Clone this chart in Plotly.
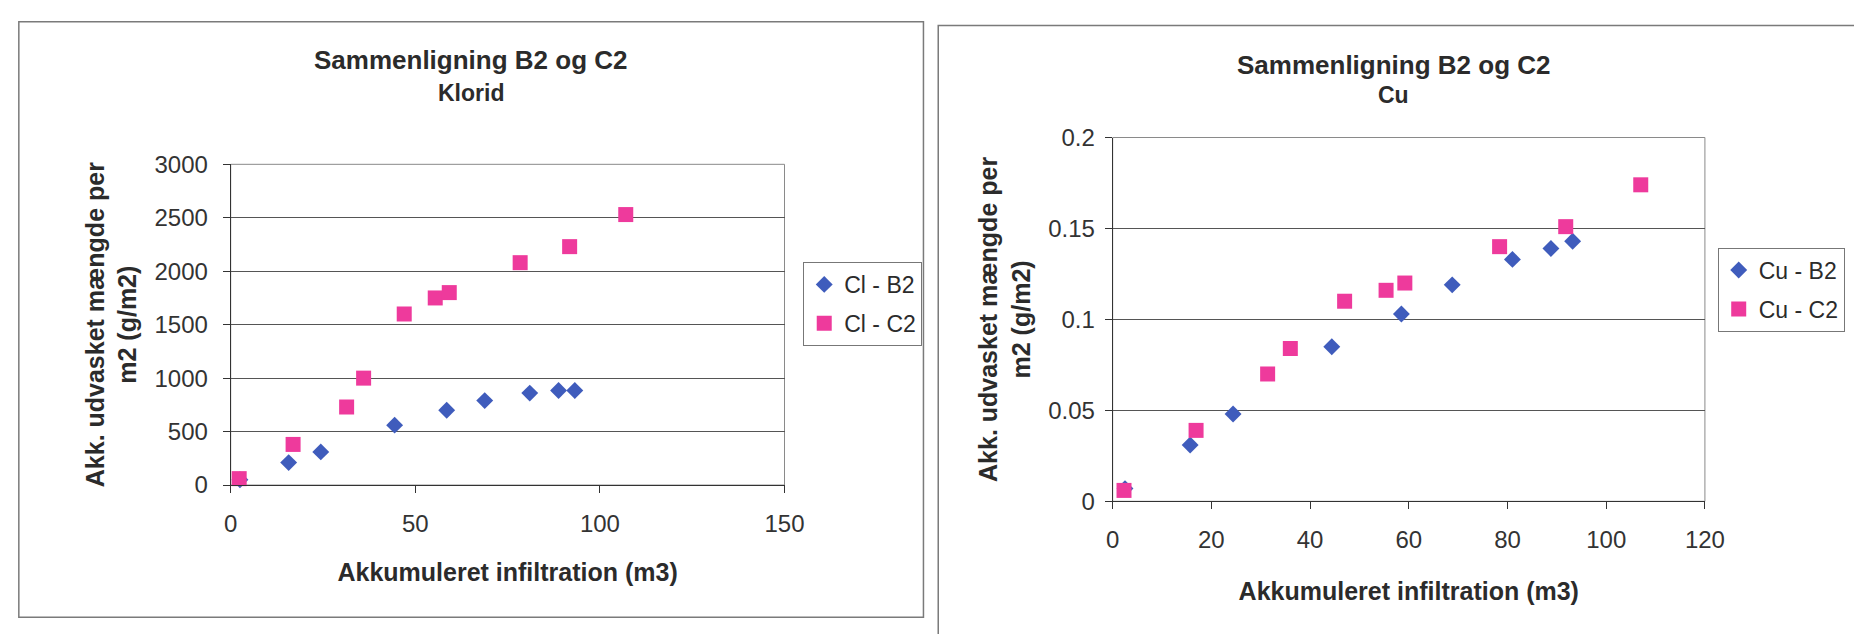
import plotly.graph_objects as go

# ---- data ----
x_b2 = [2.5, 15.7, 24.4, 44.4, 58.5, 68.8, 81.0, 88.8, 93.2]
x_c2 = [2.3, 16.9, 31.4, 36.0, 47.0, 55.4, 59.2, 78.4, 91.8, 107.0]

cl_b2 = [50, 210, 310, 560, 700, 790, 860, 885, 885]
cl_c2 = [60, 380, 730, 1000, 1600, 1750, 1800, 2080, 2230, 2530]

cu_b2 = [0.007, 0.031, 0.048, 0.085, 0.103, 0.119, 0.133, 0.139, 0.143]
cu_c2 = [0.006, 0.039, 0.070, 0.084, 0.110, 0.116, 0.120, 0.140, 0.151, 0.174]

cl_yticks = [0, 500, 1000, 1500, 2000, 2500, 3000]
cl_xticks = [0, 50, 100, 150]
cu_yticks = [0, 0.05, 0.1, 0.15, 0.2]
cu_yticktext = ["0", "0.05", "0.1", "0.15", "0.2"]
cu_xticks = [0, 20, 40, 60, 80, 100, 120]

title_main = "Sammenligning B2 og C2"
sub_left = "Klorid"
sub_right = "Cu"
xtitle = "<b>Akkumuleret infiltration (m3)</b>"
ytitle = "<b>Akk. udvasket mængde per<br>m2 (g/m2)</b>"

W, H = 1854, 634
BLUE = "#3f5cbc"
PINK = "#ee3a9c"
TXT = "#2b2b2b"
FONT = "Liberation Sans, Arial, sans-serif"

def px(x):
    return x / W

def py(y):
    return 1 - y / H

fig = go.Figure()

fig.add_trace(go.Scatter(x=x_b2, y=cl_b2, mode="markers", name="Cl - B2",
                         marker=dict(symbol="diamond", size=13, color=BLUE),
                         xaxis="x", yaxis="y", legend="legend", legendgroup="a",
                         cliponaxis=False))
fig.add_trace(go.Scatter(x=x_c2, y=cl_c2, mode="markers", name="Cl - C2",
                         marker=dict(symbol="square", size=15, color=PINK),
                         xaxis="x", yaxis="y", legend="legend", legendgroup="b",
                         cliponaxis=False))
fig.add_trace(go.Scatter(x=x_b2, y=cu_b2, mode="markers", name="Cu - B2",
                         marker=dict(symbol="diamond", size=13, color=BLUE),
                         xaxis="x2", yaxis="y2", legend="legend2", legendgroup="c",
                         cliponaxis=False))
fig.add_trace(go.Scatter(x=x_c2, y=cu_c2, mode="markers", name="Cu - C2",
                         marker=dict(symbol="square", size=15, color=PINK),
                         xaxis="x2", yaxis="y2", legend="legend2", legendgroup="d",
                         cliponaxis=False))

axis_common = dict(
    showline=True, linecolor="#333", linewidth=1,
    ticks="outside", ticklen=7, tickcolor="#333", tickwidth=1,
    zeroline=False, tickfont=dict(family=FONT, size=24, color="#333"),
)

xl = (227, 789)
yl = (157, 492)
xr = (1122, 1723)
yr = (129, 509)

fig.update_layout(
    width=W, height=H,
    margin=dict(l=0, r=0, t=0, b=0),
    paper_bgcolor="white", plot_bgcolor="white",
    font=dict(family=FONT, color=TXT),
    xaxis=dict(domain=[px(xl[0]), px(xl[1])], range=[0, 150], tickvals=cl_xticks,
               showgrid=False, anchor="y", ticklabelstandoff=10,
               title=dict(text=xtitle, font=dict(size=25, color=TXT, family=FONT), standoff=27),
               **axis_common),
    yaxis=dict(domain=[py(yl[1]), py(yl[0])], range=[0, 3000], tickvals=cl_yticks,
               showgrid=True, gridcolor="#555", gridwidth=1, anchor="x",
               ticklabelstandoff=10,
               title=dict(text=ytitle, font=dict(size=25, color=TXT, family=FONT), standoff=10),
               **axis_common),
    xaxis2=dict(domain=[px(xr[0]), px(xr[1])], range=[0, 120], tickvals=cu_xticks,
                showgrid=False, anchor="y2", ticklabelstandoff=10,
                title=dict(text=xtitle, font=dict(size=25, color=TXT, family=FONT), standoff=30),
                **axis_common),
    yaxis2=dict(domain=[py(yr[1]), py(yr[0])], range=[0, 0.2], tickvals=cu_yticks,
                ticktext=cu_yticktext,
                showgrid=True, gridcolor="#555", gridwidth=1, anchor="x2",
                ticklabelstandoff=5,
                title=dict(text=ytitle, font=dict(size=25, color=TXT, family=FONT), standoff=10),
                **axis_common),
    legend=dict(x=px(808), y=py(259), xanchor="left", yanchor="top",
                bgcolor="white", bordercolor="#777", borderwidth=1,
                font=dict(size=23, color=TXT, family=FONT), itemwidth=30,
                tracegroupgap=6),
    legend2=dict(x=px(1736), y=py(244), xanchor="left", yanchor="top",
                 bgcolor="white", bordercolor="#777", borderwidth=1,
                 font=dict(size=23, color=TXT, family=FONT), itemwidth=30,
                 tracegroupgap=6),
    showlegend=True,
)

# plot-area borders (top/right lighter lines)
for xa, ya in (("x", "y"), ("x2", "y2")):
    fig.add_shape(type="rect", xref=f"{xa} domain", yref=f"{ya} domain",
                  x0=0, x1=1, y0=0, y1=1, line=dict(color="#8a8a8a", width=1),
                  layer="below")

# chart-area frames
fig.add_shape(type="rect", xref="paper", yref="paper",
              x0=px(12), x1=px(930), y0=py(630), y1=py(8),
              line=dict(color="#7a7a7a", width=1.5), layer="below")
fig.add_shape(type="rect", xref="paper", yref="paper",
              x0=px(945), x1=px(1880), y0=py(660), y1=py(12),
              line=dict(color="#7a7a7a", width=1.5), layer="below")

# chart titles
for cx, y1, y2, sub in ((471, 48, 82, sub_left), (1407, 53, 85, sub_right)):
    fig.add_annotation(x=px(cx), y=py(y1), xref="paper", yref="paper",
                       text=f"<b>{title_main}</b>", showarrow=False,
                       xanchor="center", yanchor="middle",
                       font=dict(size=26, color=TXT, family=FONT))
    fig.add_annotation(x=px(cx), y=py(y2), xref="paper", yref="paper",
                       text=f"<b>{sub}</b>", showarrow=False,
                       xanchor="center", yanchor="middle",
                       font=dict(size=23, color=TXT, family=FONT))

fig.write_html("out.html")
